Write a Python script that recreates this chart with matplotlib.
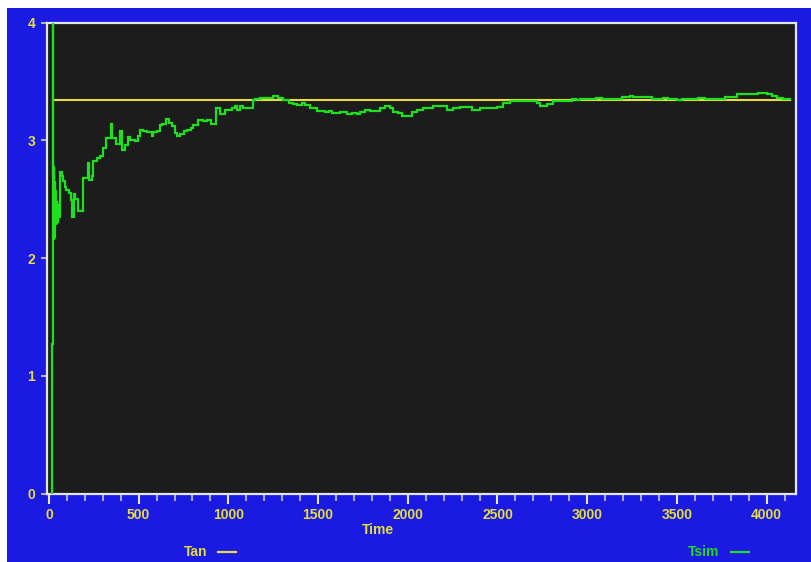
import matplotlib
matplotlib.use("Agg")
import matplotlib.pyplot as plt
from matplotlib.patches import Rectangle
from matplotlib.lines import Line2D
from matplotlib.ticker import MultipleLocator

# Simulated throughput (Tsim) sampled over time, and the analytic value (Tan)
time = [15, 17, 20, 21, 22, 23, 24, 25, 26, 27, 28, 29, 30, 31, 32, 33, 34, 36, 37,
        39, 40, 42, 44, 46, 48,
        50, 58, 62, 70, 80, 90, 97, 110, 121, 126, 139, 146, 162, 191, 219, 222,
        238, 247, 266, 284, 303, 318, 344, 350, 373, 396, 405, 424, 442, 452, 479,
        498, 507, 526, 544, 572, 582, 600, 619, 628, 652, 668, 684, 700, 712, 730,
        750, 767, 790, 805, 832, 860, 879, 901, 931, 953, 981, 1018, 1037, 1046,
        1065, 1083, 1139, 1150, 1176, 1250, 1278, 1306, 1340, 1362, 1380, 1408,
        1427, 1455, 1492, 1538, 1560, 1575, 1594, 1622, 1659, 1687, 1715, 1733,
        1761, 1789, 1845, 1873, 1901, 1920, 1947, 1966, 2022, 2050, 2087, 2143,
        2217, 2254, 2291, 2356, 2403, 2495, 2532, 2569, 2718, 2736, 2774, 2811,
        2913, 2940, 2960, 3050, 3080, 3192, 3239, 3257, 3359, 3425, 3450, 3499,
        3527, 3620, 3657, 3768, 3833, 3954, 4000, 4028, 4056, 4093, 4130]
tsim = [0.00, 1.27, 4.00, 2.80, 2.20, 2.75, 2.10, 2.70, 2.15, 2.78, 2.25, 2.60, 2.18,
        2.65, 2.30, 2.55, 2.22, 2.50, 2.28, 2.58, 2.30, 2.48, 2.32, 2.45, 2.30,
        2.35, 2.35, 2.73, 2.70, 2.65, 2.60, 2.58,
        2.55, 2.49, 2.35, 2.54, 2.50, 2.40, 2.68, 2.81, 2.66, 2.70, 2.82, 2.85, 2.87,
        2.93, 3.02, 3.14, 3.02, 2.97, 3.08, 2.92, 2.96, 3.03, 3.00, 2.99, 3.04, 3.09,
        3.08, 3.07, 3.04, 3.07, 3.08, 3.13, 3.14, 3.18, 3.15, 3.12, 3.06, 3.04, 3.05,
        3.08, 3.09, 3.10, 3.13, 3.17, 3.16, 3.17, 3.14, 3.27, 3.22, 3.26, 3.27, 3.29,
        3.26, 3.29, 3.27, 3.34, 3.35, 3.36, 3.38, 3.36, 3.34, 3.32, 3.31, 3.30, 3.32,
        3.30, 3.27, 3.25, 3.24, 3.25, 3.23, 3.23, 3.24, 3.22, 3.23, 3.22, 3.24, 3.26,
        3.25, 3.27, 3.29, 3.27, 3.24, 3.23, 3.21, 3.24, 3.26, 3.27, 3.29, 3.26, 3.27,
        3.28, 3.26, 3.27, 3.28, 3.32, 3.33, 3.32, 3.29, 3.31, 3.33, 3.35, 3.34, 3.35,
        3.36, 3.35, 3.37, 3.38, 3.37, 3.35, 3.36, 3.35, 3.34, 3.35, 3.36, 3.35, 3.37,
        3.39, 3.40, 3.39, 3.38, 3.36, 3.35, 3.35]
tan_time = [20, 4130]
tan_value = 3.345

x_ticks = [0, 500, 1000, 1500, 2000, 2500, 3000, 3500, 4000]
y_ticks = [0, 1, 2, 3, 4]

BLUE = "#1a1ae2"
PANEL = "#1c1c1c"
YELLOW = "#e6dc3c"
GREEN = "#1ee01e"
SPINE = "#e4e4ec"

W, H = 811, 562
fig = plt.figure(figsize=(W / 100, H / 100), dpi=100, facecolor="white")
fig.patches.append(Rectangle((7 / W, 0), 1 - 7 / W, 1 - 8 / H,
                             transform=fig.transFigure, facecolor=BLUE,
                             edgecolor="none", zorder=-10))

ax = fig.add_axes([47 / W, 1 - 493.5 / H, (796 - 47) / W, (493.5 - 22.5) / H])
ax.set_facecolor(PANEL)
ax.set_xlim(-11, 4164)
ax.set_ylim(0, 4)

ax.plot(tan_time, [tan_value, tan_value], color=YELLOW, lw=1.5, zorder=2)
ax.plot(time, tsim, color=GREEN, lw=1.6, drawstyle="steps-post", zorder=3,
        solid_joinstyle="miter")

for s in ax.spines.values():
    s.set_color(SPINE)
    s.set_linewidth(1.6)

font = dict(family="Liberation Sans", weight="bold", size=10)

ax.set_xticks(x_ticks)
ax.set_xticklabels([str(v) for v in x_ticks], **font)
ax.xaxis.set_minor_locator(MultipleLocator(100))
ax.set_yticks(y_ticks)
ax.set_yticklabels([str(v) for v in y_ticks], **font)

ax.tick_params(axis="x", which="major", direction="out", length=7.2, width=1.5,
               color="#e8e8f4", labelcolor=YELLOW, pad=3)
ax.tick_params(axis="x", which="minor", direction="out", length=5.2, width=1.5,
               color="#a8a8c4")
ax.tick_params(axis="y", which="major", direction="out", length=4.5, width=1.5,
               color="#b0b0b8", labelcolor=YELLOW, pad=4)

fig.text(378 / W, 1 - 530 / H, "Time", color=YELLOW, ha="center", va="center", **font)

# legend entries along the bottom edge
ly = 1 - 552 / H
fig.text(195.5 / W, ly, "Tan", color=YELLOW, ha="center", va="center", **font)
fig.lines.append(Line2D([218 / W, 236 / W], [ly, ly], transform=fig.transFigure,
                        color=YELLOW, lw=1.6))
fig.text(704 / W, ly, "Tsim", color=GREEN, ha="center", va="center", **font)
fig.lines.append(Line2D([731 / W, 749 / W], [ly, ly], transform=fig.transFigure,
                        color=GREEN, lw=1.6))

fig.savefig("out.png", dpi=100, facecolor=fig.get_facecolor())
